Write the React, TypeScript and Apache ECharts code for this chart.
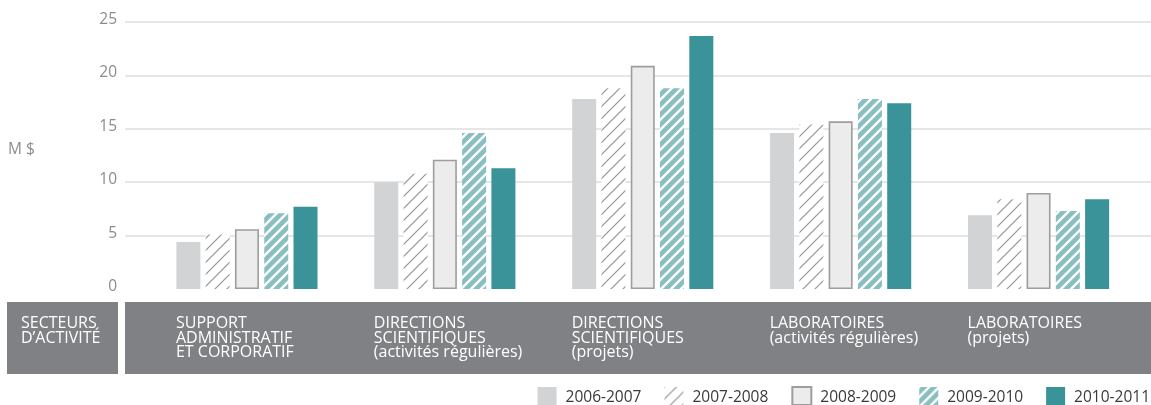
import React, { useEffect, useRef } from "react";
import * as echarts from "echarts";

const categories = [
  "SUPPORT\nADMINISTRATIF\nET CORPORATIF",
  "DIRECTIONS\nSCIENTIFIQUES\n(activités régulières)",
  "DIRECTIONS\nSCIENTIFIQUES\n(projets)",
  "LABORATOIRES\n(activités régulières)",
  "LABORATOIRES\n(projets)",
];
const seriesNames = ["2006-2007", "2007-2008", "2008-2009", "2009-2010", "2010-2011"];
const v0607 = [4.4, 10.0, 17.8, 14.6, 6.9];
const v0708 = [5.1, 10.8, 18.8, 15.4, 8.4];
const v0809 = [5.6, 12.1, 20.9, 15.7, 9.0];
const v0910 = [7.1, 14.6, 18.8, 17.8, 7.3];
const v1011 = [7.7, 11.3, 23.7, 17.4, 8.4];
const yTicks = { min: 0, max: 25, interval: 5 };
const unitLabel = "M $";
const sectorLabel = "SECTEURS\nD’ACTIVITÉ";

const FONT = "'Open Sans', 'Noto Sans', sans-serif";

function hatch(size: number, bg: string | null, line: string, lw: number) {
  const c = document.createElement("canvas");
  c.width = size;
  c.height = size;
  const ctx = c.getContext("2d")!;
  if (bg) {
    ctx.fillStyle = bg;
    ctx.fillRect(0, 0, size, size);
  }
  ctx.strokeStyle = line;
  ctx.lineWidth = lw;
  ctx.beginPath();
  ctx.moveTo(-2, size + 2);
  ctx.lineTo(size + 2, -2);
  ctx.moveTo(-2, 2);
  ctx.lineTo(2, -2);
  ctx.moveTo(size - 2, size + 2);
  ctx.lineTo(size + 2, size - 2);
  ctx.stroke();
  return { image: c, repeat: "repeat" } as any;
}

export default function App() {
  const ref = useRef<HTMLDivElement>(null);
  useEffect(() => {
    if (!ref.current) return;
    const chart = echarts.init(ref.current, null, { renderer: "svg" });
    const grayHatch = hatch(12, "#ffffff", "#959595", 1.2);
    const tealHatch = hatch(10, "#89bfc1", "#ffffff", 2.4);
    const styles: any[] = [
      { color: "#d1d3d4" },
      { color: grayHatch },
      { color: "#ececec", borderColor: "#9d9d9d", borderWidth: 1.6 },
      { color: tealHatch },
      { color: "#3a9399" },
    ];
    const values = [v0607, v0708, v0809, v0910, v1011];
    chart.setOption({
      animation: false,
      textStyle: { fontFamily: FONT },
      grid: [
        { left: 125, right: 0, top: 22, bottom: 116 },
        { left: 148, right: 13.5, top: 22, bottom: 116 },
      ],
      xAxis: [
        { gridIndex: 0, type: "value", show: false, min: 0, max: 1 },
        {
          gridIndex: 1,
          type: "category",
          data: categories,
          axisLine: { show: false },
          axisTick: { show: false },
          axisLabel: {
            interval: 0,
            margin: 26,
            formatter: (v: string) =>
              v
                .split("\n")
                .map((l) => `{a|${l}}`)
                .join("\n"),
            rich: {
              a: {
                width: 142,
                align: "left",
                color: "#ffffff",
                fontSize: 16,
                lineHeight: 14.5,
                fontFamily: FONT,
              },
            },
          },
        },
      ],
      yAxis: [
        {
          gridIndex: 0,
          type: "value",
          min: yTicks.min,
          max: yTicks.max,
          interval: yTicks.interval,
          axisLine: { show: false },
          axisTick: { show: false },
          axisLabel: {
            color: "#8c8c8c",
            fontSize: 15.5,
            margin: 8,
            verticalAlign: "bottom",
            lineHeight: 8,
            fontFamily: FONT,
          },
          splitLine: {
            show: true,
            showMinLine: false,
            lineStyle: { color: "#e6e6e6", width: 2 },
          },
        },
        {
          gridIndex: 1,
          type: "value",
          min: yTicks.min,
          max: yTicks.max,
          interval: yTicks.interval,
          show: false,
          splitLine: { show: false },
        },
      ],
      legend: {
        right: 1,
        top: 386,
        padding: 0,
        icon: "rect",
        itemWidth: 19,
        itemHeight: 18,
        itemGap: 23,
        selectedMode: false,
        data: seriesNames,
        textStyle: {
          color: "#3a3a3a",
          fontSize: 15.5,
          lineHeight: 16,
          fontFamily: FONT,
          padding: [0, 0, 0, 4],
        },
      },
      graphic: [
        {
          type: "rect",
          z: -1,
          shape: { x: 7, y: 302, width: 111, height: 72 },
          style: { fill: "#808184" },
        },
        {
          type: "rect",
          z: -1,
          shape: { x: 125, y: 302, width: 1026, height: 72 },
          style: { fill: "#808184" },
        },
        {
          type: "text",
          x: 21,
          y: 315,
          style: {
            text: sectorLabel,
            fill: "#ffffff",
            font: `16px ${FONT}`,
            lineHeight: 14.5,
          },
        },
        {
          type: "text",
          x: 8,
          y: 148,
          style: {
            text: unitLabel,
            fill: "#8c8c8c",
            font: `15.5px ${FONT}`,
            verticalAlign: "middle",
          },
        },
      ],
      series: seriesNames.map((name, i) => ({
        name,
        type: "bar",
        xAxisIndex: 1,
        yAxisIndex: 1,
        data: values[i],
        barWidth: 24,
        barGap: "22%",
        itemStyle: styles[i],
      })),
    });
    return () => chart.dispose();
  }, []);
  return (
    <div
      ref={ref}
      style={{ position: "fixed", left: 0, top: 0, width: 1151, height: 405 }}
    />
  );
}
